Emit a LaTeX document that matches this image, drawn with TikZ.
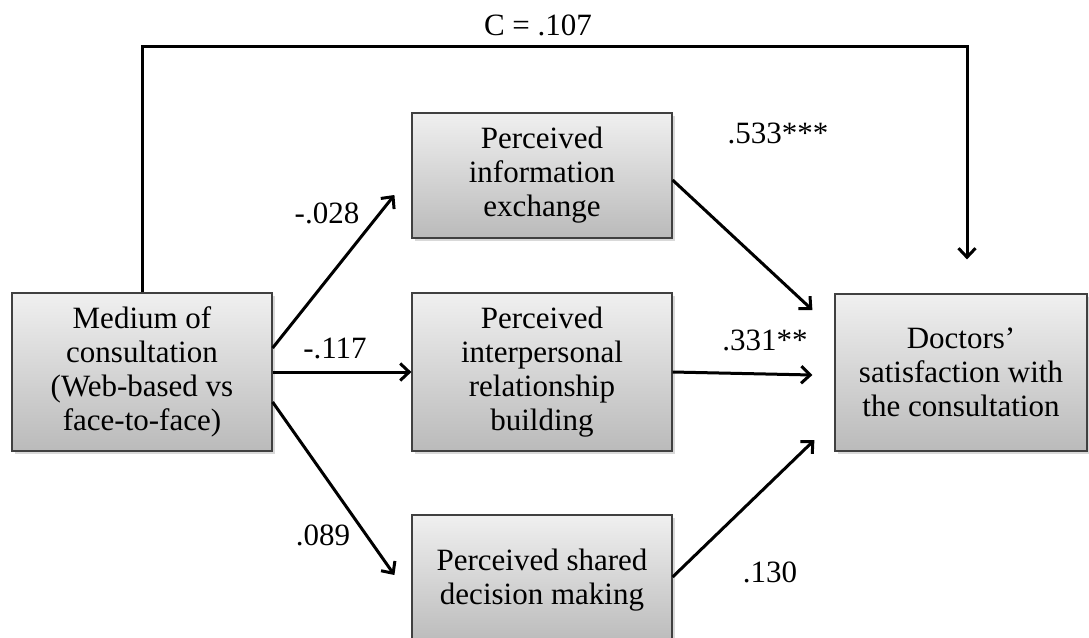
\documentclass[tikz,border=0pt]{standalone}
\usepackage{fontspec}
\setmainfont{Liberation Serif}
\usepackage{tikz}
\usetikzlibrary{arrows.meta,shadows}

\begin{document}
\begin{tikzpicture}[x=0.5pt,y=-0.5pt,
    every node/.style={font=\fontsize{15.5}{17}\selectfont},
    varbox/.style={draw=black!75,line width=0.6pt,top color=black!6,bottom color=black!27,
      align=center,inner sep=0pt,
      drop shadow={shadow xshift=1.5pt,shadow yshift=-1.5pt,opacity=0.3}},
    arr/.style={line width=1.5pt,-{Straight Barb[length=4.5pt,width=8.5pt,line width=1.5pt]}}]
    \useasboundingbox (0,0) rectangle (1089,638);

    \node[varbox,minimum width=130pt,minimum height=79pt] (med) at (142,372)
      {Medium of\\consultation\\(Web-based vs\\face-to-face)};
    \node[varbox,minimum width=130pt,minimum height=62.5pt] (info) at (542,175.5)
      {Perceived\\information\\exchange};
    \node[varbox,minimum width=130pt,minimum height=79pt] (inter) at (542,372)
      {Perceived\\interpersonal\\relationship\\building};
    \node[varbox,minimum width=130pt,minimum height=65pt] (shared) at (542,580)
      {Perceived shared\\decision making};
    \node[varbox,minimum width=126pt,minimum height=78.5pt] (sat) at (961,372.5)
      {Doctors'\\satisfaction with\\the consultation};

    % direct path
    \draw[arr] (med.north) -- ++(0,-246) -| ([xshift=3pt,yshift=17pt]sat.north);
    \node (c) at (538,25) {C = .107};

    % medium -> mediators
    \draw[arr] ([yshift=12pt]med.east) -- ([xshift=-8.5pt,yshift=-9.75pt]info.west);
    \draw[arr] (med.east) -- (inter.west);
    \draw[arr] ([yshift=-15pt]med.east) -- ([xshift=-8.5pt,yshift=2.5pt]shared.west);
    \node (a1) at (327,213) {-.028};
    \node (a2) at (335,348) {-.117};
    \node (a3) at (323,535) {.089};

    % mediators -> satisfaction
    \draw[arr] ([yshift=-2.25pt]info.east) -- ([xshift=-11pt,yshift=31.25pt]sat.west);
    \draw[arr] (inter.east) -- ([xshift=-11pt,yshift=-1.25pt]sat.west);
    \draw[arr] ([yshift=1.5pt]shared.east) -- ([xshift=-10pt,yshift=-33.75pt]sat.west);
    \node (b1) at (778,133) {.533***};
    \node (b2) at (765,340) {.331**};
    \node (b3) at (770,572) {.130};
  \end{tikzpicture}
\end{document}
